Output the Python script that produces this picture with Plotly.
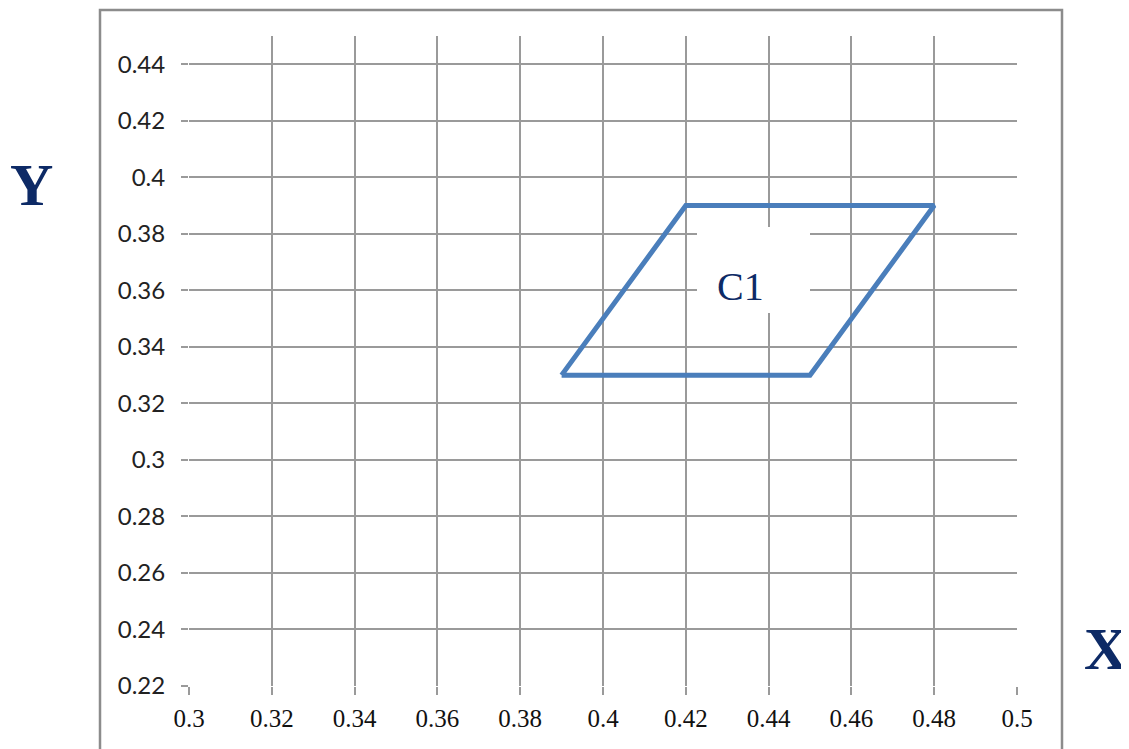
import plotly.graph_objects as go

# Data
shape_x = [0.39, 0.42, 0.48, 0.45, 0.39]
shape_y = [0.33, 0.39, 0.39, 0.33, 0.33]
x_ticks = [0.30, 0.32, 0.34, 0.36, 0.38, 0.40, 0.42, 0.44, 0.46, 0.48, 0.50]
x_tick_labels = ["0.3", "0.32", "0.34", "0.36", "0.38", "0.4", "0.42", "0.44", "0.46", "0.48", "0.5"]
y_ticks = [0.22, 0.24, 0.26, 0.28, 0.30, 0.32, 0.34, 0.36, 0.38, 0.40, 0.42, 0.44]
y_tick_labels = ["0.22", "0.24", "0.26", "0.28", "0.3", "0.32", "0.34", "0.36", "0.38", "0.4", "0.42", "0.44"]
region_label = "C1"
region_label_pos = (0.4331, 0.3612)

X_RANGE = [0.3, 0.5]
Y_RANGE = [0.22, 0.45]

OFF = 8  # page body margin
W, H = 1129 - OFF, 749 - OFF
L, T = 189 - OFF, 36 - OFF
pw, ph = 828, 650
R, B = W - L - pw, H - T - ph

def px_to_paper_x(p):
    return (p - OFF - L) / pw

def px_to_paper_y(p):
    return (T + ph - (p - OFF)) / ph

def px_to_data_x(p):
    return X_RANGE[0] + px_to_paper_x(p) * (X_RANGE[1] - X_RANGE[0])

def px_to_data_y(p):
    return Y_RANGE[0] + px_to_paper_y(p) * (Y_RANGE[1] - Y_RANGE[0])

GRID = "#9a9a9a"
NAVY = "#0d2a66"

fig = go.Figure()
fig.add_trace(go.Scatter(
    x=shape_x, y=shape_y, mode="lines",
    line=dict(color="#4a7ebb", width=5),
    hoverinfo="skip", showlegend=False,
))

fig.update_layout(
    width=W, height=H,
    margin=dict(l=L, r=R, t=T, b=B),
    paper_bgcolor="white", plot_bgcolor="white",
    showlegend=False,
    xaxis=dict(
        range=X_RANGE, tickvals=x_ticks, ticktext=x_tick_labels,
        showgrid=True, gridcolor=GRID, gridwidth=1.5,
        zeroline=False, showline=False,
        ticks="outside", ticklen=8, tickcolor=GRID, tickwidth=1.5,
        tickfont=dict(family="Liberation Serif", size=25, color="#111"),
        ticklabelstandoff=2,
    ),
    yaxis=dict(
        range=Y_RANGE, tickvals=y_ticks, ticktext=y_tick_labels,
        showgrid=True, gridcolor=GRID, gridwidth=1.5,
        zeroline=False, showline=False,
        ticks="outside", ticklen=7, tickcolor=GRID, tickwidth=1.5,
        tickfont=dict(family="Lato", size=24, color="#222"),
        ticklabelstandoff=11,
    ),
    shapes=[
        dict(
            type="rect", xref="paper", yref="paper",
            x0=px_to_paper_x(100), x1=px_to_paper_x(1062),
            y0=px_to_paper_y(800), y1=px_to_paper_y(10),
            line=dict(color="#8c8c8c", width=2.5), fillcolor="rgba(0,0,0,0)",
            layer="below",
        ),
        dict(
            type="rect", xref="x", yref="y",
            x0=px_to_data_x(697), x1=px_to_data_x(810),
            y0=px_to_data_y(313), y1=px_to_data_y(227),
            line=dict(width=0), fillcolor="white",
            layer="between",
        ),
    ],
    annotations=[
        dict(text="<b>Y</b>", xref="paper", yref="paper",
             x=px_to_paper_x(31), y=px_to_paper_y(185),
             showarrow=False, font=dict(family="Liberation Serif", size=60, color=NAVY),
             xanchor="center", yanchor="middle"),
        dict(text="<b>X</b>", xref="paper", yref="paper",
             x=px_to_paper_x(1105), y=px_to_paper_y(649),
             showarrow=False, font=dict(family="Liberation Serif", size=60, color=NAVY),
             xanchor="center", yanchor="middle"),
        dict(text=region_label, x=region_label_pos[0], y=region_label_pos[1],
             xref="x", yref="y", showarrow=False,
             font=dict(family="Liberation Serif", size=40, color=NAVY),
             xanchor="center", yanchor="middle"),
    ],
)

fig.write_html("out.html")
